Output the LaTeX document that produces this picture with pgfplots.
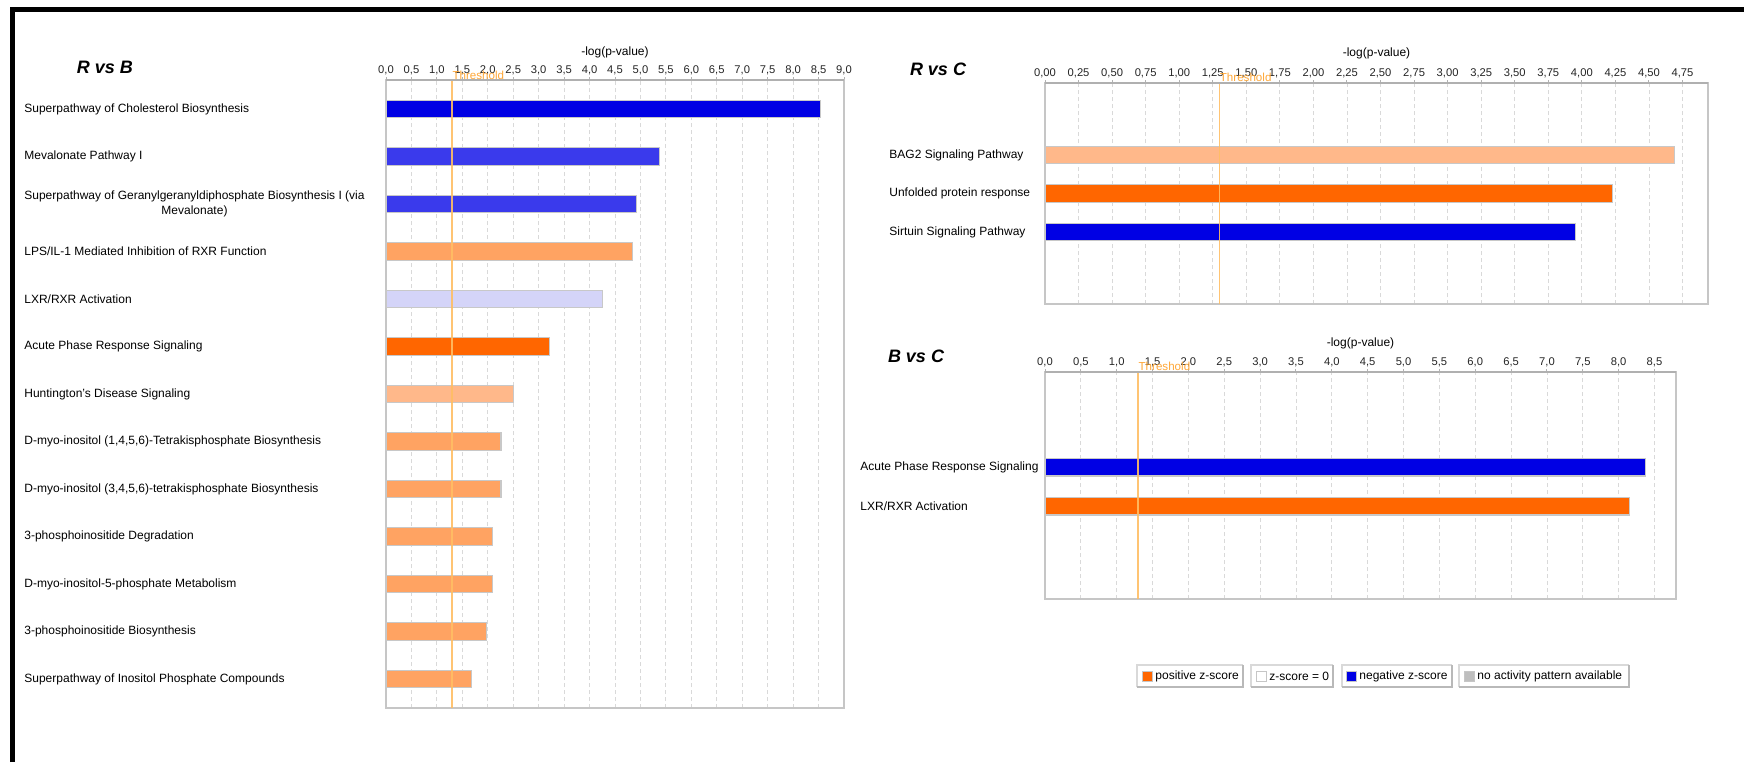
\documentclass[border=0pt]{standalone}
\usepackage{fontspec}
\setmainfont{Liberation Sans}
\usepackage{pgfplots}
\pgfplotsset{compat=1.18}

\definecolor{negdark}{RGB}{0,0,228}
\definecolor{negmid}{RGB}{58,58,236}
\definecolor{neglight}{RGB}{212,212,248}
\definecolor{posdark}{RGB}{255,102,0}
\definecolor{posmid}{RGB}{255,163,98}
\definecolor{poslight}{RGB}{255,184,138}
\definecolor{nopat}{RGB}{190,190,190}
\definecolor{thresh}{RGB}{255,190,100}
\definecolor{threshtext}{RGB}{255,168,56}
\definecolor{edge}{RGB}{200,200,200}

\newcommand{\lblfont}{\fontsize{6}{7.2}\selectfont}
\newcommand{\tickfont}{\fontsize{5.6}{6.5}\selectfont}

\pgfplotsset{
  ipa/.style={
    scale only axis, anchor=north west, clip=false,
    bar width=8.75pt, xmin=0,
    axis line style={draw=gray!45, line width=0.8pt},
    xtick pos=right, xticklabel pos=right,
    tick align=outside, major tick length=1.5pt,
    xtick style={draw=gray!60, line width=0.5pt},
    ytick style={draw=none},
    xmajorgrids,
    grid style={gray!30, dash pattern=on 2pt off 1.5pt, line width=0.4pt},
    xticklabel style={font=\tickfont, text=black!85, yshift=-2.5pt},
    yticklabel style={font=\lblfont, anchor=west, align=center, inner sep=0pt},
    /pgf/number format/use comma,
    /pgf/number format/fixed,
    /pgf/number format/fixed zerofill,
    /pgf/number format/assume math mode=true,
  },
  bars/.style={xbar, bar shift=0pt, fill=#1, draw=edge, line width=0.6pt},
  threshline/.style={sharp plot, mark=none, draw=thresh, line width=0.75pt, opacity=0.9},
}

\begin{document}
\begin{tikzpicture}
\begin{scope}[x=0.5pt, y=-0.5pt]
  \useasboundingbox (0,0) rectangle (1744,762);
  \fill[white] (0,0) rectangle (1744,762);
  % outer frame (top and left edges)
  \draw[line width=2.25pt, line join=miter] (12.5,762) -- (12.5,9.5) -- (1744,9.5);
  % panel titles
  \node[font=\fontsize{9}{10}\selectfont\bfseries\itshape] at (105,67) {R vs B};
  \node[font=\fontsize{9}{10}\selectfont\bfseries\itshape] at (938,69) {R vs C};
  \node[font=\fontsize{9}{10}\selectfont\bfseries\itshape] at (916,356) {B vs C};
\end{scope}

% ---------------- R vs B ----------------
\begin{axis}[ipa, at={(193pt,-40pt)}, width=229pt, height=314pt,
  xmax=9, xtick distance=0.5, /pgf/number format/precision=1,
  ymin=-0.61, ymax=12.61, ytick={0,...,12},
  yticklabel style={xshift=-179.5pt},
  yticklabels={
    {Superpathway of Inositol Phosphate Compounds},
    {3-phosphoinositide Biosynthesis},
    {D-myo-inositol-5-phosphate Metabolism},
    {3-phosphoinositide Degradation},
    {D-myo-inositol (3,4,5,6)-tetrakisphosphate Biosynthesis},
    {D-myo-inositol (1,4,5,6)-Tetrakisphosphate Biosynthesis},
    {Huntington’s Disease Signaling},
    {Acute Phase Response Signaling},
    {LXR/RXR Activation},
    {LPS/IL-1 Mediated Inhibition of RXR Function},
    {Superpathway of Geranylgeranyldiphosphate Biosynthesis I (via\\Mevalonate)},
    {Mevalonate Pathway I},
    {Superpathway of Cholesterol Biosynthesis}}]
  \addplot[bars=negdark]   coordinates {(8.54,12)};
  \addplot[bars=negmid]    coordinates {(5.38,11) (4.92,10)};
  \addplot[bars=posmid]    coordinates {(4.85,9) (2.26,5) (2.26,4) (2.09,3) (2.09,2) (1.97,1) (1.68,0)};
  \addplot[bars=neglight]  coordinates {(4.25,8)};
  \addplot[bars=posdark]   coordinates {(3.22,7)};
  \addplot[bars=poslight]  coordinates {(2.51,6)};
  \addplot[threshline] coordinates {(1.3,-0.61) (1.3,12.61)};
  \draw[gray!62, line width=1pt] (rel axis cs:0,1) -- (rel axis cs:1,1);
  \node[anchor=west, inner sep=0pt, text=threshtext, font=\fontsize{5.8}{6}\selectfont, yshift=2.5pt]
    at (axis cs:1.3,12.61) {Threshold};
  \node[font=\lblfont, yshift=14pt] at (rel axis cs:0.5,1) {-log(p-value)};
\end{axis}

% ---------------- R vs C ----------------
\begin{axis}[ipa, at={(522.5pt,-41.5pt)}, width=331.5pt, height=110.5pt,
  xmax=4.94, xtick distance=0.25, /pgf/number format/precision=2,
  ymin=-1.87, ymax=3.87, ytick={0,1,2},
  yticklabel style={xshift=-76.5pt},
  yticklabels={{Sirtuin Signaling Pathway},{Unfolded protein response},{BAG2 Signaling Pathway}}]
  \addplot[bars=poslight] coordinates {(4.69,2)};
  \addplot[bars=posdark]  coordinates {(4.23,1)};
  \addplot[bars=negdark]  coordinates {(3.95,0)};
  \addplot[threshline] coordinates {(1.3,-1.87) (1.3,3.87)};
  \draw[gray!62, line width=1pt] (rel axis cs:0,1) -- (rel axis cs:1,1);
  \node[anchor=west, inner sep=0pt, text=threshtext, font=\fontsize{5.8}{6}\selectfont, yshift=3pt]
    at (axis cs:1.3,3.87) {Threshold};
  \node[font=\lblfont, yshift=15pt] at (rel axis cs:0.5,1) {-log(p-value)};
\end{axis}

% ---------------- B vs C ----------------
\begin{axis}[ipa, at={(522.5pt,-186pt)}, width=315.5pt, height=113.5pt,
  xmax=8.8, xtick distance=0.5, /pgf/number format/precision=1,
  ymin=-2.38, ymax=3.44, ytick={0,1},
  yticklabel style={xshift=-91pt},
  yticklabels={{LXR/RXR Activation},{Acute Phase Response Signaling}}]
  \addplot[bars=negdark] coordinates {(8.37,1)};
  \addplot[bars=posdark] coordinates {(8.15,0)};
  \addplot[threshline] coordinates {(1.3,-2.38) (1.3,3.44)};
  \draw[gray!62, line width=1pt] (rel axis cs:0,1) -- (rel axis cs:1,1);
  \node[anchor=west, inner sep=0pt, text=threshtext, font=\fontsize{5.8}{6}\selectfont, yshift=3pt]
    at (axis cs:1.3,3.44) {Threshold};
  \node[font=\lblfont, yshift=14.5pt] at (rel axis cs:0.5,1) {-log(p-value)};
\end{axis}

% ---------------- legend ----------------
\begin{scope}[x=0.5pt, y=-0.5pt]
  \foreach \xa/\xb/\sq/\col/\txt in {
      1137/1243/1142/posdark/{positive z-score},
      1251/1333/1256/white/{z-score = 0},
      1342/1452/1346/negdark/{negative z-score},
      1459/1629/1464/nopat/{no activity pattern available}} {
    \fill[white] (\xa,665) rectangle (\xb,687);
    \draw[gray!30, line width=0.6pt] (\xa,687) -- (\xa,665) -- (\xb,665);
    \draw[gray!55, line width=0.8pt] (\xa,687) -- (\xb,687) -- (\xb,665);
    \draw[fill=\col, draw=gray!45, line width=0.4pt] (\sq,671) rectangle ++(10,10);
    \node[anchor=west, inner sep=0pt, font=\lblfont] at (\sq+13,676) {\txt};
  }
\end{scope}
\end{tikzpicture}
\end{document}
